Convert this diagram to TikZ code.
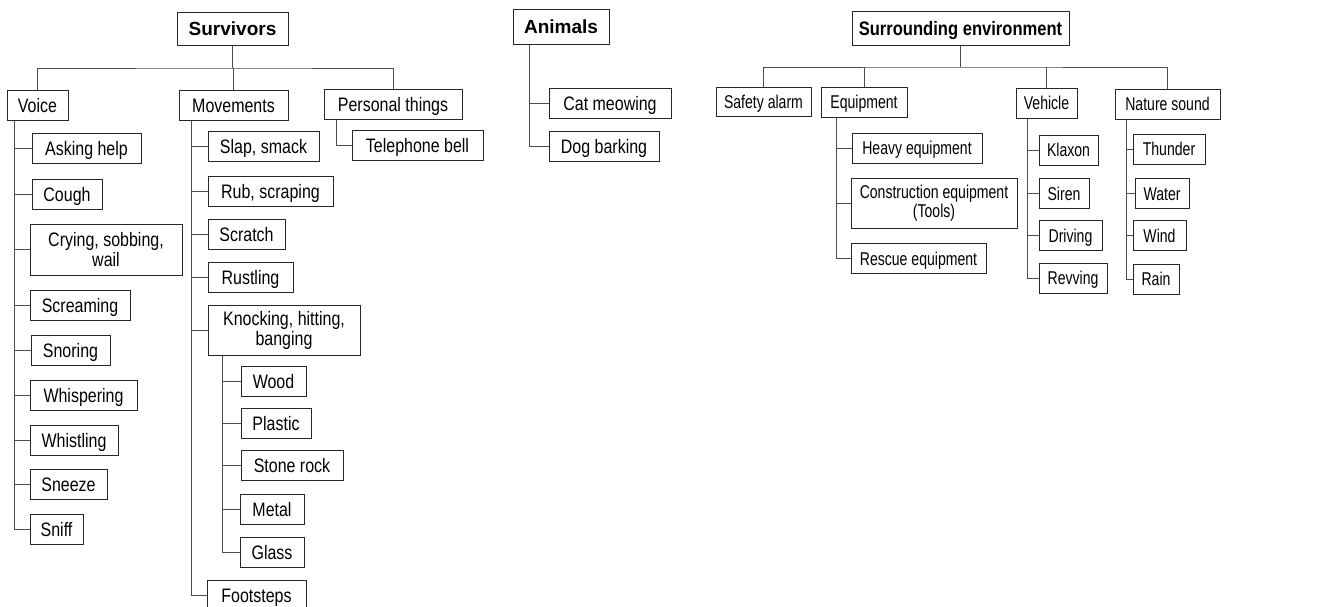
\documentclass[tikz,border=0pt]{standalone}
\usepackage{fontspec}
\setmainfont{Liberation Sans}
\newfontfamily\bodyfont[FakeStretch=0.82]{Liberation Sans}
\newfontfamily\envfont[FakeStretch=0.76]{Liberation Sans}
\newfontfamily\envtitlefont[FakeStretch=0.85]{Liberation Sans}
\usepackage{tikz}

\begin{document}
\begin{tikzpicture}[x=1pt,y=-1pt,
    box/.style={draw=black!85,line width=1pt,minimum height=30pt,inner sep=2pt,align=center,
        text height=14pt,text depth=0pt,font=\bodyfont\fontsize{19.5}{20}\selectfont},
    sbox/.style={box,text height=13.2pt,font=\envfont\fontsize{18.5}{19}\selectfont},
    title/.style={box,text height=13.6pt,font=\bfseries\fontsize{19}{22}\selectfont},
    twoline/.style={text height=,text depth=},
    link/.style={draw=black!70,line width=1pt}]
    \useasboundingbox[fill=white] (0,0) rectangle (1320,606);

    % survivors
    \node[title,minimum width=111pt,minimum height=33pt] (surv) at (232.5,28.5) {Survivors};
    \node[box,minimum width=61pt] (voice) at (37.5,105) {Voice};
    \node[box,minimum width=109pt] (mov) at (233.5,105) {Movements};
    \node[box,minimum width=138pt] (pers) at (393,104) {Personal things};
    \node[box,minimum width=131pt] (tel) at (417.5,145) {Telephone bell};

    \node[box,minimum width=109pt] (ask) at (86.5,148.5) {Asking help};
    \node[box,minimum width=70pt] (cough) at (67,194.5) {Cough};
    \node[box,twoline,minimum width=152pt,minimum height=51pt] (cry) at (106,249.5) {Crying, sobbing,\\wail};
    \node[box,minimum width=100pt] (scream) at (80,305) {Screaming};
    \node[box,minimum width=79pt] (snore) at (70.5,350) {Snoring};
    \node[box,minimum width=107pt] (whisp) at (83.5,395) {Whispering};
    \node[box,minimum width=88pt] (whist) at (74,440) {Whistling};
    \node[box,minimum width=77pt] (sneeze) at (68.5,484) {Sneeze};
    \node[box,minimum width=53pt] (sniff) at (56.5,529) {Sniff};

    \node[box,minimum width=111pt] (slap) at (263.5,146) {Slap, smack};
    \node[box,minimum width=125pt] (rub) at (270.5,191) {Rub, scraping};
    \node[box,minimum width=77pt] (scratch) at (246.5,234) {Scratch};
    \node[box,minimum width=85pt] (rustle) at (250.5,277) {Rustling};
    \node[box,twoline,minimum width=152pt,minimum height=50pt] (knock) at (284,330) {Knocking, hitting,\\banging};
    \node[box,minimum width=65pt] (wood) at (273.5,381.5) {Wood};
    \node[box,minimum width=70pt] (plastic) at (276,423) {Plastic};
    \node[box,minimum width=102pt] (stone) at (292,465.5) {Stone rock};
    \node[box,minimum width=64pt] (metal) at (272,509) {Metal};
    \node[box,minimum width=64pt] (glass) at (272,552) {Glass};
    \node[box,minimum width=99pt] (foot) at (256.5,595) {Footsteps};

    \coordinate (sbar) at (232.5,68);
    \draw[link] (surv.south) -- (sbar);
    \draw[link] (voice.north) |- (sbar) -| (pers.north);
    \draw[link] (mov.north) -- (mov.north |- sbar);
    \foreach \c in {ask,cough,cry,scream,snore,whisp,whist,sneeze,sniff}
        \draw[link] ([xshift=8pt]voice.south west) |- (\c.west);
    \foreach \c in {slap,rub,scratch,rustle,knock,foot}
        \draw[link] ([xshift=13pt]mov.south west) |- (\c.west);
    \foreach \c in {wood,plastic,stone,metal,glass}
        \draw[link] ([xshift=15pt]knock.south west) |- (\c.west);
    \draw[link] ([xshift=13pt]pers.south west) |- (tel.west);

    % animals
    \node[title,minimum width=96pt,minimum height=35pt] (anim) at (561,26.5) {Animals};
    \node[box,minimum width=122pt] (cat) at (610,103) {Cat meowing};
    \node[box,minimum width=110pt] (dog) at (604,146) {Dog barking};
    \foreach \c in {cat,dog}
        \draw[link] ([xshift=17pt]anim.south west) |- (\c.west);

    % surrounding environment
    \node[title,text height=14pt,font=\envtitlefont\bfseries\fontsize{19.5}{22}\selectfont,minimum width=217pt,minimum height=34pt] (env) at (960.5,28) {Surrounding environment};
    \node[sbox,minimum width=95pt,minimum height=29pt] (safety) at (763.5,101.5) {Safety alarm};
    \node[sbox,minimum width=86pt] (equip) at (864,102) {Equipment};
    \node[sbox,minimum width=61pt] (vehicle) at (1046.5,103) {Vehicle};
    \node[sbox,minimum width=105pt] (nature) at (1167.5,104) {Nature sound};

    \node[sbox,minimum width=130pt] (heavy) at (917,148) {Heavy equipment};
    \node[sbox,twoline,minimum width=166pt,minimum height=50pt] (constr) at (934,203) {Construction equipment\\(Tools)};
    \node[sbox,minimum width=135pt] (rescue) at (918.5,258.5) {Rescue equipment};

    \node[sbox,minimum width=59pt] (klaxon) at (1068.5,150) {Klaxon};
    \node[sbox,minimum width=50pt] (siren) at (1064,193.5) {Siren};
    \node[sbox,minimum width=63pt] (driving) at (1070.5,235.5) {Driving};
    \node[sbox,minimum width=68pt] (revving) at (1073,278) {Revving};

    \node[sbox,minimum width=72pt] (thunder) at (1169,149) {Thunder};
    \node[sbox,minimum width=54pt] (water) at (1162,193.5) {Water};
    \node[sbox,minimum width=53pt] (wind) at (1159.5,235.5) {Wind};
    \node[sbox,minimum width=46pt] (rain) at (1156,279) {Rain};

    \coordinate (ebar) at (960.5,67);
    \draw[link] (env.south) -- (ebar);
    \draw[link] (safety.north) |- (ebar) -| (nature.north);
    \draw[link] (equip.north) -- (equip.north |- ebar);
    \draw[link] (vehicle.north) -- (vehicle.north |- ebar);
    \foreach \c in {heavy,constr,rescue}
        \draw[link] ([xshift=16pt]equip.south west) |- (\c.west);
    \foreach \c in {klaxon,siren,driving,revving}
        \draw[link] ([xshift=12pt]vehicle.south west) |- (\c.west);
    \foreach \c in {thunder,water,wind,rain}
        \draw[link] ([xshift=12pt]nature.south west) |- (\c.west);
\end{tikzpicture}
\end{document}
